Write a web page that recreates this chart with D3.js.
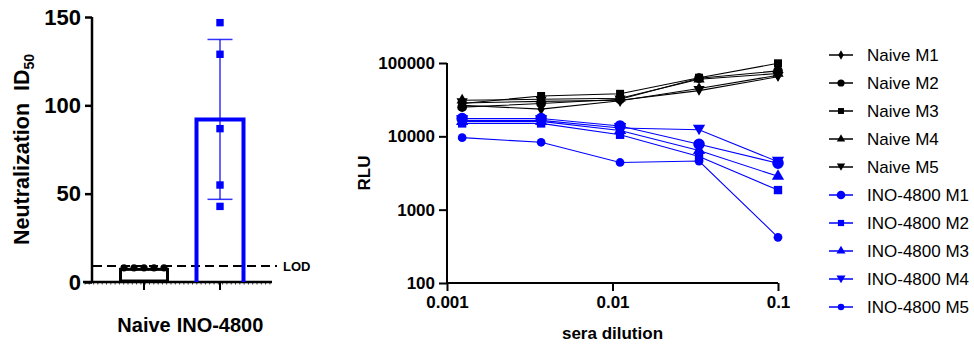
<!DOCTYPE html>
<html>
<head>
<meta charset="utf-8">
<script src="https://cdn.jsdelivr.net/npm/d3@7"></script>
<style>
  body { margin: 0; background: #fff; }
  svg { font-family: Arial, "Liberation Sans", sans-serif; }
</style>
</head>
<body>
<div id="wrapper"></div>
<script>
// ---- left panel: neutralization ID50 ----
const groups = ["Naive", "INO-4800"];
const naiveId50 = [8, 8, 8, 8, 8];
const inoId50 = [146.8, 128.9, 86.8, 54.9, 42.8];
const lod = 9;
const leftTicks = [0, 50, 100, 150];

// ---- right panel: RLU vs dilution ----
const dilutions = [1 / 810, 1 / 270, 1 / 90, 1 / 30, 1 / 10];
const seriesNames = ["Naive M1", "Naive M2", "Naive M3", "Naive M4", "Naive M5",
  "INO-4800 M1", "INO-4800 M2", "INO-4800 M3", "INO-4800 M4", "INO-4800 M5"];
const naiveM1 = [26500, 23500, 30500, 45000, 68000];
const naiveM2 = [25000, 28000, 32000, 62000, 78000];
const naiveM3 = [28000, 35500, 38000, 63000, 99000];
const naiveM4 = [31000, 32000, 33000, 60000, 72000];
const naiveM5 = [28500, 30000, 31000, 42000, 65000];
const inoM1 = [17500, 17500, 13800, 7800, 4300];
const inoM2 = [15000, 15000, 10500, 5300, 1850];
const inoM3 = [16000, 16000, 12000, 6400, 2850];
const inoM4 = [16500, 16500, 13000, 12300, 4500];
const inoM5 = [9600, 8300, 4400, 4600, 420];
const rluTicks = [100, 1000, 10000, 100000];
const dilutionTicks = [0.001, 0.01, 0.1];

const blue = "#0000ff";
const width = 974, height = 345;

const svg = d3.select("#wrapper").append("svg")
  .attr("width", width)
  .attr("height", height);

// ================= left chart =================
const yL = d3.scaleLinear().domain([0, 150]).range([282, 17]);
const xL = d3.scalePoint().domain(groups).range([144, 220]);
const barW = 47;

const left = svg.append("g");

// baseline with small hatch ticks
left.append("line")
  .attr("x1", 83).attr("x2", 272)
  .attr("y1", yL(0)).attr("y2", yL(0))
  .attr("stroke", "#000").attr("stroke-width", 2.5);
left.append("g").selectAll("line")
  .data(d3.range(85, 272, 4.3))
  .join("line")
  .attr("x1", d => d).attr("x2", d => d)
  .attr("y1", yL(0)).attr("y2", yL(0) + 2.5)
  .attr("stroke", "#000").attr("stroke-width", 0.8);

const yAxisL = left.append("g")
  .attr("transform", "translate(92,0)")
  .call(d3.axisLeft(yL).tickValues(leftTicks).tickSize(7).tickPadding(4));
yAxisL.select(".domain").attr("stroke-width", 2.5).attr("d", `M0,${yL(150)}V${yL(0)}`);
yAxisL.selectAll(".tick line").attr("stroke-width", 2.5);
yAxisL.selectAll(".tick text")
  .attr("font-family", "Arial, 'Liberation Sans', sans-serif")
  .attr("font-size", 22).attr("font-weight", "bold").attr("fill", "#000");

// x ticks
left.append("g").selectAll("line")
  .data(groups)
  .join("line")
  .attr("x1", d => xL(d)).attr("x2", d => xL(d))
  .attr("y1", yL(0)).attr("y2", yL(0) + 8)
  .attr("stroke", "#000").attr("stroke-width", 2);

left.append("g").selectAll("text")
  .data(groups)
  .join("text")
  .attr("x", (d, i) => xL(d) + (i === 1 ? 0 : 0))
  .attr("y", 332)
  .attr("text-anchor", "middle")
  .attr("font-size", 20).attr("font-weight", "bold")
  .text(d => d);

// LOD line
left.append("line")
  .attr("x1", 93).attr("x2", 277)
  .attr("y1", yL(lod)).attr("y2", yL(lod))
  .attr("stroke", "#000").attr("stroke-width", 2)
  .attr("stroke-dasharray", "9,5");
left.append("text")
  .attr("x", 283).attr("y", yL(lod) + 4.5)
  .attr("font-size", 13).attr("font-weight", "bold")
  .text("LOD");

// bars
const naiveMean = d3.mean(naiveId50);
const inoMean = d3.mean(inoId50);
const inoSd = d3.deviation(inoId50);

left.append("rect")
  .attr("x", xL("Naive") - barW / 2).attr("y", yL(naiveMean) + 1.5)
  .attr("width", barW).attr("height", yL(0) - yL(naiveMean) - 2.5)
  .attr("fill", "#fff").attr("stroke", "#000").attr("stroke-width", 3);

left.append("path")
  .attr("d", `M${xL("INO-4800") - barW / 2},${yL(0)}V${yL(inoMean)}H${xL("INO-4800") + barW / 2}V${yL(0)}`)
  .attr("fill", "none").attr("stroke", blue).attr("stroke-width", 4);

// naive dots
left.append("g").selectAll("circle")
  .data(naiveId50)
  .join("circle")
  .attr("cx", (d, i) => xL("Naive") + (i - 2) * 10)
  .attr("cy", d => yL(d))
  .attr("r", 3.6)
  .attr("fill", "#000");

// error bar
const ex = xL("INO-4800");
left.append("line")
  .attr("x1", ex).attr("x2", ex)
  .attr("y1", yL(inoMean + inoSd)).attr("y2", yL(inoMean - inoSd))
  .attr("stroke", blue).attr("stroke-width", 1.5).attr("opacity", 0.8);
left.append("g").selectAll("line")
  .data([inoMean + inoSd, inoMean - inoSd])
  .join("line")
  .attr("x1", ex - 12.5).attr("x2", ex + 12.5)
  .attr("y1", d => yL(d)).attr("y2", d => yL(d))
  .attr("stroke", blue).attr("stroke-width", 1.5).attr("opacity", 0.8);

// ino squares
left.append("g").selectAll("rect")
  .data(inoId50)
  .join("rect")
  .attr("x", ex - 3.7).attr("y", d => yL(d) - 3.7)
  .attr("width", 7.4).attr("height", 7.4)
  .attr("fill", blue);

// y title
left.append("text")
  .attr("transform", `translate(29,${(yL(150) + yL(0)) / 2}) rotate(-90)`)
  .attr("text-anchor", "middle")
  .attr("font-size", 21.5).attr("font-weight", "bold")
  .call(t => {
    t.append("tspan").text("Neutralization\u00a0\u00a0ID");
    t.append("tspan").attr("font-size", 14).attr("dy", 5).text("50");
  });

// ================= right chart =================
const xR = d3.scaleLog().domain([0.001, 0.1]).range([447, 778]);
const yR = d3.scaleLog().domain([100, 100000]).range([283, 63]);

const right = svg.append("g");

const xAxisR = right.append("g")
  .attr("transform", `translate(0,${yR(100)})`)
  .call(d3.axisBottom(xR).tickValues(dilutionTicks).tickFormat(d => String(d)).tickSize(8).tickPadding(5));
const yAxisR = right.append("g")
  .attr("transform", `translate(${xR(0.001)},0)`)
  .call(d3.axisLeft(yR).tickValues(rluTicks).tickFormat(d => String(d)).tickSize(8).tickPadding(4));
[xAxisR, yAxisR].forEach(ax => {
  ax.select(".domain").attr("stroke-width", 2);
  ax.selectAll(".tick line").attr("stroke-width", 2);
  ax.selectAll(".tick text")
    .attr("font-family", "Arial, 'Liberation Sans', sans-serif")
    .attr("font-size", 17).attr("font-weight", "bold").attr("fill", "#000");
});
xAxisR.select(".domain").attr("d", `M${xR(0.001)},0H${xR(0.1)}`);
yAxisR.select(".domain").attr("d", `M0,${yR(100000)}V${yR(100)}`);

right.append("text")
  .attr("x", (xR(0.001) + xR(0.1)) / 2).attr("y", 339)
  .attr("text-anchor", "middle")
  .attr("font-size", 17).attr("font-weight", "bold")
  .text("sera dilution");
right.append("text")
  .attr("transform", `translate(370,${(yR(100) + yR(100000)) / 2}) rotate(-90)`)
  .attr("text-anchor", "middle")
  .attr("font-size", 17).attr("font-weight", "bold")
  .text("RLU");

const seriesValues = [naiveM1, naiveM2, naiveM3, naiveM4, naiveM5, inoM1, inoM2, inoM3, inoM4, inoM5];
const shapes = [
  { type: d3.symbolDiamond, size: 45, rot: 0 },
  { type: d3.symbolCircle, size: 75, rot: 0 },
  { type: d3.symbolSquare, size: 64, rot: 0 },
  { type: d3.symbolTriangle, size: 55, rot: 0 },
  { type: d3.symbolTriangle, size: 55, rot: 180 },
  { type: d3.symbolCircle, size: 105, rot: 0 },
  { type: d3.symbolSquare, size: 70, rot: 0 },
  { type: d3.symbolTriangle, size: 65, rot: 0 },
  { type: d3.symbolTriangle, size: 65, rot: 180 },
  { type: d3.symbolCircle, size: 60, rot: 0 }
];
const series = seriesNames.map((name, i) => ({
  name,
  color: i < 5 ? "#000" : blue,
  shape: shapes[i],
  points: dilutions.map((x, j) => ({ x, y: seriesValues[i][j] }))
}));

const line = d3.line().x(d => xR(d.x)).y(d => yR(d.y));

const sg = right.append("g").selectAll("g")
  .data(series)
  .join("g");
sg.append("path")
  .attr("d", d => line(d.points))
  .attr("fill", "none")
  .attr("stroke", d => d.color)
  .attr("stroke-width", 1.1);
sg.each(function (s) {
  d3.select(this).selectAll(".pt")
    .data(s.points)
    .join("path")
    .attr("class", "pt")
    .attr("d", d3.symbol(s.shape.type, s.shape.size))
    .attr("transform", d => `translate(${xR(d.x)},${yR(d.y) + (s.shape.rot ? -1.5 : 0)}) rotate(${s.shape.rot})`)
    .attr("fill", s.color);
});

// legend
const legend = svg.append("g").attr("transform", "translate(829,55)");
const li = legend.selectAll("g")
  .data(series)
  .join("g")
  .attr("transform", (d, i) => `translate(0,${i * 28})`);
li.append("line")
  .attr("x1", 0).attr("x2", 24)
  .attr("stroke", d => d.color).attr("stroke-width", 1.5);
li.append("path")
  .attr("d", d => d3.symbol(d.shape.type, d.shape.size * 0.55)())
  .attr("transform", d => `translate(12,${d.shape.rot ? -1 : 0}) rotate(${d.shape.rot})`)
  .attr("fill", d => d.color);
li.append("text")
  .attr("x", 38).attr("y", 6)
  .attr("font-size", 17)
  .text(d => d.name);
</script>
</body>
</html>
